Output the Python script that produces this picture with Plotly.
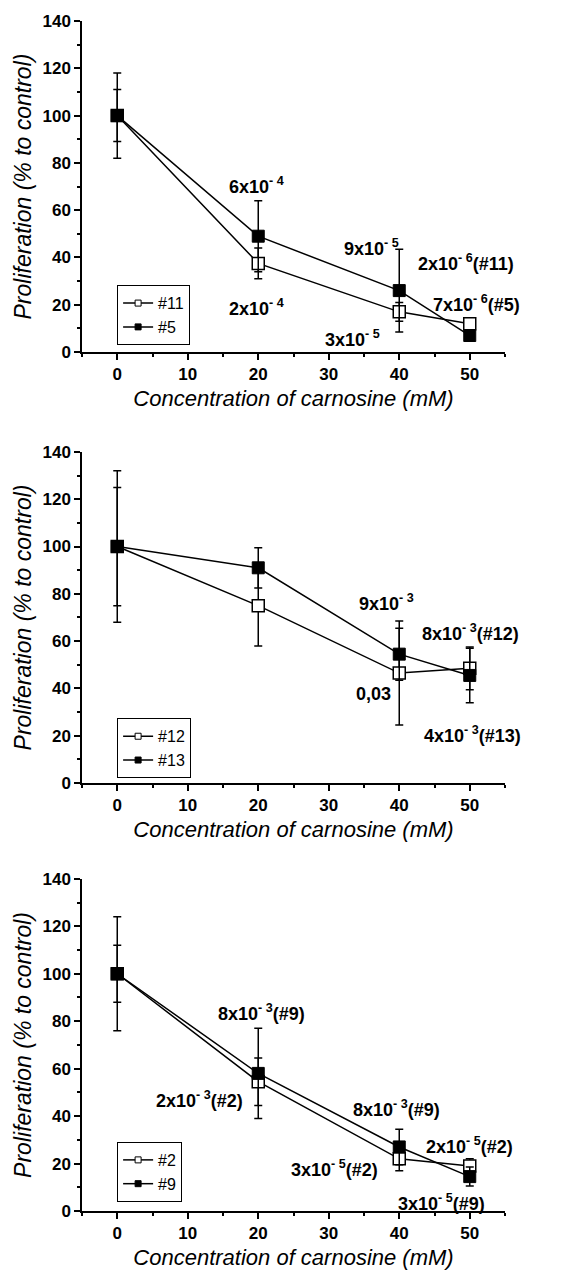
import plotly.graph_objects as go

# ---------------- data ----------------
concentration = [0, 20, 40, 50]

# panel 1
p1_names = ["#11", "#5"]
p1_open = [100, 37.5, 17, 12]
p1_open_err = [11, 6.5, 4, 2]
p1_filled = [100, 49, 26, 7]
p1_filled_err = [18, 15, 17.5, 1.5]

# panel 2
p2_names = ["#12", "#13"]
p2_open = [100, 75, 46.5, 48.5]
p2_open_err = [32, 17, 22, 9]
p2_filled = [100, 91, 54.5, 45.5]
p2_filled_err = [25, 8.5, 11, 11.5]

# panel 3
p3_names = ["#2", "#9"]
p3_open = [100, 54.5, 22, 19]
p3_open_err = [12, 10, 5, 3]
p3_filled = [100, 58, 27, 14.5]
p3_filled_err = [24, 19, 7.5, 4]

x_tick_vals = [0, 10, 20, 30, 40, 50]
y_tick_vals = [0, 20, 40, 60, 80, 100, 120, 140]

# p-value labels: (text, x, y)
p1_labels = [
    ("6x10<sup>- 4</sup>", 19.8, 71.5),
    ("2x10<sup>- 4</sup>", 19.8, 20),
    ("9x10<sup>- 5</sup>", 36, 45.5),
    ("3x10<sup>- 5</sup>", 33.3, 7),
    ("2x10<sup>- 6</sup>(#11)", 49.4, 39.3),
    ("7x10<sup>- 6</sup>(#5)", 51, 21.7),
]
p2_labels = [
    ("9x10<sup>- 3</sup>", 38.2, 77.7),
    ("8x10<sup>- 3</sup>(#12)", 50.1, 64.8),
    ("0,03", 36.3, 37.6),
    ("4x10<sup>- 3</sup>(#13)", 50.4, 21.7),
]
p3_labels = [
    ("8x10<sup>- 3</sup>(#9)", 20.4, 85.1),
    ("2x10<sup>- 3</sup>(#2)", 11.6, 48.3),
    ("8x10<sup>- 3</sup>(#9)", 39.6, 44.6),
    ("2x10<sup>- 5</sup>(#2)", 50, 28.7),
    ("3x10<sup>- 5</sup>(#2)", 30.8, 19),
    ("3x10<sup>- 5</sup>(#9)", 46, 4.9),
]

FONT = "Liberation Sans, Arial, sans-serif"

panels = [
    (p1_names, p1_open, p1_open_err, p1_filled, p1_filled_err, p1_labels),
    (p2_names, p2_open, p2_open_err, p2_filled, p2_filled_err, p2_labels),
    (p3_names, p3_open, p3_open_err, p3_filled, p3_filled_err, p3_labels),
]

y_domains = [[0.7218, 1.0], [0.3596, 0.6379], [0.0, 0.2791]]
legend_y = [0.778, 0.414, 0.058]

fig = go.Figure()
annotations = []

for i, (names, yo, eo, yf, ef, labels) in enumerate(panels):
    k = "" if i == 0 else str(i + 1)
    xa, ya = "x" + k, "y" + k
    leg = "legend" + k
    common = dict(mode="lines+markers", line=dict(color="black", width=1.5),
                  xaxis=xa, yaxis=ya, showlegend=False, cliponaxis=False)
    fig.add_trace(go.Scatter(
        x=concentration, y=yo, name=names[0],
        marker=dict(symbol="square", size=12, color="white",
                    line=dict(color="black", width=1.5)),
        error_y=dict(type="data", array=eo, thickness=1.5, width=4, color="black"),
        **common))
    fig.add_trace(go.Scatter(
        x=concentration, y=yf, name=names[1],
        marker=dict(symbol="square", size=12, color="black",
                    line=dict(color="black", width=1)),
        error_y=dict(type="data", array=ef, thickness=1.5, width=4, color="black"),
        **common))
    # legend-only entries with small symbols
    fig.add_trace(go.Scatter(
        x=[None], y=[None], mode="lines+markers", name=names[0],
        line=dict(color="black", width=1.5), xaxis=xa, yaxis=ya,
        marker=dict(symbol="square", size=6, color="white",
                    line=dict(color="black", width=1)),
        legend=leg, showlegend=True))
    fig.add_trace(go.Scatter(
        x=[None], y=[None], mode="lines+markers", name=names[1],
        line=dict(color="black", width=1.5), xaxis=xa, yaxis=ya,
        marker=dict(symbol="square", size=6, color="black",
                    line=dict(color="black", width=1)),
        legend=leg, showlegend=True))

    axis_common = dict(showline=True, linecolor="black", linewidth=1.5,
                       ticks="outside", ticklen=6, tickwidth=1.5, tickcolor="black",
                       showgrid=False, zeroline=False,
                       tickfont=dict(family=FONT, size=17, color="black", weight="bold"))
    fig.update_layout(**{
        "xaxis" + k: dict(domain=[0, 1], range=[-5, 55], anchor=ya,
                          tickvals=x_tick_vals,
                          minor=dict(ticks="outside", ticklen=3, tickwidth=1.5,
                                     tickcolor="black", dtick=5, tick0=0),
                          title=dict(text="Concentration of carnosine (mM)",
                                     font=dict(family=FONT, size=22, color="black",
                                               style="italic"),
                                     standoff=7),
                          **axis_common),
        "yaxis" + k: dict(domain=y_domains[i], range=[0, 140], anchor=xa,
                          tickvals=y_tick_vals,
                          minor=dict(ticks="outside", ticklen=3, tickwidth=1.5,
                                     tickcolor="black", dtick=10, tick0=0),
                          title=dict(text="Proliferation (% to control)",
                                     font=dict(family=FONT, size=23, color="black",
                                               style="italic"),
                                     standoff=4),
                          **axis_common),
        leg: dict(x=0.083, y=legend_y[i], xanchor="left", yanchor="top",
                  xref="paper", yref="paper",
                  bordercolor="black", borderwidth=1, bgcolor="white",
                  font=dict(family=FONT, size=16, color="black"),
                  itemwidth=30, tracegroupgap=0, traceorder="normal"),
    })
    for text, lx, ly in labels:
        annotations.append(dict(text=text, x=lx, y=ly, xref=xa, yref=ya,
                                showarrow=False, xanchor="center", yanchor="middle",
                                yshift=-3 if "<sup>" in text else 0,
                                font=dict(family=FONT, size=18, color="black",
                                          weight="bold")))

fig.update_layout(
    width=567, height=1278,
    margin=dict(l=82, r=62, t=19, b=55),
    paper_bgcolor="white", plot_bgcolor="white",
    annotations=annotations,
)

fig.write_html("out.html")
